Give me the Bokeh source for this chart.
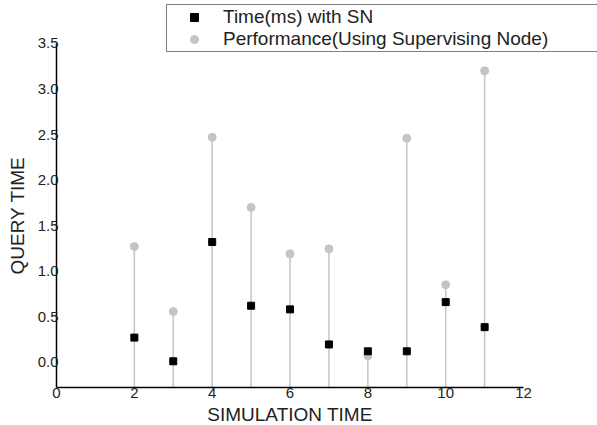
from bokeh.plotting import figure
from bokeh.models import ColumnDataSource, Legend, LegendItem, FixedTicker, Range1d
from bokeh.embed import file_html
from bokeh.resources import INLINE

# ---- data ----
sim_time = [2, 3, 4, 5, 6, 7, 8, 9, 10, 11]
time_sn = [0.27, 0.01, 1.32, 0.62, 0.58, 0.195, 0.12, 0.12, 0.66, 0.385]
performance_sn = [1.27, 0.557, 2.47, 1.70, 1.19, 1.245, 0.07, 2.46, 0.85, 3.20]
x_ticks = [0, 2, 4, 6, 8, 10, 12]
y_ticks = [0.0, 0.5, 1.0, 1.5, 2.0, 2.5, 3.0, 3.5]
y_labels = {0.0: "0.0", 0.5: "0.5", 1.0: "1.0", 1.5: "1.5", 2.0: "2.0",
            2.5: "2.5", 3.0: "3.0", 3.5: "3.5"}

X_AXIS_MIN, X_AXIS_MAX = 0, 12
Y_AXIS_MIN, Y_AXIS_MAX = -0.278, 3.5

FONT = "Liberation Sans"
TXT = "#222222"

p = figure(width=597, height=425, output_backend="svg", toolbar_location=None,
           x_range=Range1d(-1.439, 13.9), y_range=Range1d(-0.695, 3.972),
           min_border_left=0, min_border_right=0, min_border_top=0,
           min_border_bottom=0)
p.outline_line_color = None
p.grid.visible = False
p.background_fill_color = "white"
p.border_fill_color = "white"

src = ColumnDataSource(dict(x=sim_time, t=time_sn, perf=performance_sn,
                            base=[Y_AXIS_MIN] * len(sim_time)))

p.segment(x0="x", y0="base", x1="x", y1="perf", source=src,
          line_color="#c8c8c8", line_width=1.6)
r_perf = p.scatter(x="x", y="perf", source=src, marker="circle", size=8,
                   fill_color="#c4c4c4", line_color="#c4c4c4")
r_time = p.scatter(x="x", y="t", source=src, marker="square", size=7,
                   fill_color="#000000", line_color="#000000")

# axes
xa = p.xaxis[0]
xa.fixed_location = Y_AXIS_MIN
xa.ticker = FixedTicker(ticks=x_ticks)
xa.bounds = (X_AXIS_MIN, X_AXIS_MAX)
xa.major_tick_out = 0
xa.major_tick_in = 0
xa.minor_tick_out = 0
xa.minor_tick_in = 0
xa.major_label_standoff = 0
xa.axis_label = "SIMULATION TIME"
xa.axis_label_standoff = 3
xa.axis_label_text_font = FONT
xa.axis_label_text_font_style = "normal"
xa.axis_label_text_font_size = "19px"
xa.axis_label_text_color = TXT
xa.major_label_text_font = FONT
xa.major_label_text_font_size = "15px"
xa.major_label_text_color = TXT
xa.axis_line_color = "black"
xa.axis_line_width = 1.5

ya = p.yaxis[0]
ya.fixed_location = X_AXIS_MIN
ya.ticker = FixedTicker(ticks=y_ticks)
ya.major_label_overrides = y_labels
ya.bounds = (Y_AXIS_MIN, Y_AXIS_MAX)
ya.major_tick_out = 0
ya.major_tick_in = 0
ya.minor_tick_out = 0
ya.minor_tick_in = 0
ya.major_label_standoff = -2
ya.axis_label = "QUERY TIME"
ya.axis_label_standoff = 7
ya.axis_label_text_font = FONT
ya.axis_label_text_font_style = "normal"
ya.axis_label_text_font_size = "19px"
ya.axis_label_text_color = TXT
ya.major_label_text_font = FONT
ya.major_label_text_font_size = "15px"
ya.major_label_text_color = TXT
ya.axis_line_color = "black"
ya.axis_line_width = 1.5

legend = Legend(items=[LegendItem(label="Time(ms) with SN", renderers=[r_time]),
                       LegendItem(label="Performance(Using Supervising Node)", renderers=[r_perf])],
                location=(166, 373), orientation="vertical")
legend.label_text_font = FONT
legend.label_text_font_size = "19px"
legend.label_text_color = TXT
legend.label_height = 20
legend.glyph_height = 20
legend.glyph_width = 52
legend.label_standoff = 3
legend.spacing = 0
legend.padding = 1
legend.margin = 0
legend.label_width = 420
legend.border_line_color = "black"
legend.border_line_width = 1
legend.background_fill_alpha = 1
p.add_layout(legend, "center")

open("out.html", "w").write(file_html(p, INLINE))
